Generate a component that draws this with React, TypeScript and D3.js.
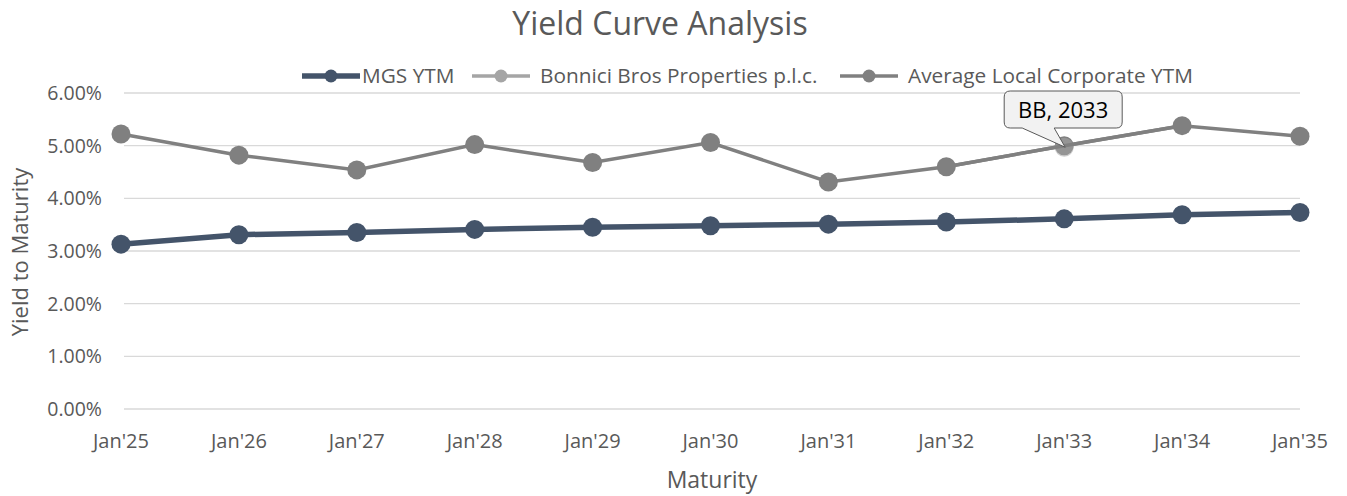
import React, { useEffect, useRef } from 'react'
import * as d3 from 'd3'

// chart data
const maturities = ["Jan'25", "Jan'26", "Jan'27", "Jan'28", "Jan'29", "Jan'30", "Jan'31", "Jan'32", "Jan'33", "Jan'34", "Jan'35"]
const mgsYtm = [3.13, 3.31, 3.35, 3.41, 3.45, 3.48, 3.51, 3.55, 3.61, 3.69, 3.73]
const avgCorporateYtm = [5.22, 4.82, 4.54, 5.02, 4.68, 5.06, 4.31, 4.60, 5.00, 5.38, 5.18]
const bonniciMaturity = ["Jan'33"]
const bonniciYtm = [4.97]
const yTicks = [0, 1, 2, 3, 4, 5, 6]
const seriesNames = ['MGS YTM', 'Bonnici Bros Properties p.l.c.', 'Average Local Corporate YTM']

const FONT = "'Open Sans', sans-serif"

export default function App() {
    const ref = useRef<SVGSVGElement>(null)

    useEffect(() => {
        const width = 1347
        const height = 496
        const svg = d3.select(ref.current)
        svg.selectAll('*').remove()

        const x = d3.scalePoint<string>().domain(maturities).range([121, 1300])
        const y = d3.scaleLinear().domain([0, 6]).range([409, 93])

        // title
        svg.append('text')
            .attr('x', 660).attr('y', 35)
            .attr('text-anchor', 'middle')
            .style('font-family', FONT).style('font-size', '32px')
            .attr('fill', '#595959')
            .text('Yield Curve Analysis')

        // gridlines
        svg.append('g').selectAll('line')
            .data(yTicks)
            .enter().append('line')
            .attr('x1', 124).attr('x2', 1300)
            .attr('y1', d => y(d)).attr('y2', d => y(d))
            .attr('stroke', '#D9D9D9').attr('stroke-width', 1.3)

        // y tick labels
        svg.append('g').selectAll('text')
            .data(yTicks)
            .enter().append('text')
            .attr('x', 102).attr('y', d => y(d) + 7)
            .attr('text-anchor', 'end')
            .style('font-family', FONT).style('font-size', '19.5px')
            .attr('fill', '#595959')
            .text(d => d.toFixed(2) + '%')

        // x tick labels
        svg.append('g').selectAll('text')
            .data(maturities)
            .enter().append('text')
            .attr('x', d => x(d)!).attr('y', 448)
            .attr('text-anchor', 'middle')
            .style('font-family', FONT).style('font-size', '20px')
            .attr('fill', '#595959')
            .text(d => d)

        // axis titles
        svg.append('text')
            .attr('x', 712).attr('y', 488)
            .attr('text-anchor', 'middle')
            .style('font-family', FONT).style('font-size', '23px')
            .attr('fill', '#595959')
            .text('Maturity')
        svg.append('text')
            .attr('transform', 'translate(28,252) rotate(-90)')
            .attr('text-anchor', 'middle')
            .style('font-family', FONT).style('font-size', '22px')
            .attr('fill', '#595959')
            .text('Yield to Maturity')

        const line = d3.line<number>()
            .x((d, i) => x(maturities[i])!)
            .y(d => y(d))

        // MGS
        svg.append('path').datum(mgsYtm)
            .attr('d', line).attr('fill', 'none')
            .attr('stroke', '#44546A').attr('stroke-width', 5.5)
        svg.append('g').selectAll('circle')
            .data(mgsYtm).enter().append('circle')
            .attr('cx', (d, i) => x(maturities[i])!).attr('cy', d => y(d))
            .attr('r', 9.5).attr('fill', '#44546A')

        // average corporate
        svg.append('path').datum(avgCorporateYtm)
            .attr('d', line).attr('fill', 'none')
            .attr('stroke', '#808080').attr('stroke-width', 3.5)
        svg.append('g').selectAll('circle')
            .data(avgCorporateYtm).enter().append('circle')
            .attr('cx', (d, i) => x(maturities[i])!).attr('cy', d => y(d))
            .attr('r', 9.5).attr('fill', '#808080')

        // Bonnici bond
        svg.append('g').selectAll('circle')
            .data(bonniciYtm).enter().append('circle')
            .attr('cx', (d, i) => x(bonniciMaturity[i])!).attr('cy', d => y(d))
            .attr('r', 9.5).attr('fill', '#A5A5A5').attr('opacity', 0.55)
        svg.append('path').datum(avgCorporateYtm.slice(7, 10))
            .attr('d', d3.line<number>().x((d, i) => x(maturities[i + 7])!).y(d => y(d)))
            .attr('fill', 'none').attr('stroke', '#808080').attr('stroke-width', 3.5)

        // callout
        const px = x(bonniciMaturity[0])!
        const py = y(bonniciYtm[0])
        const bx0 = px - 60, bx1 = px + 58, by0 = 91, by1 = 128
        const r = 6
        const callout = `M${bx0 + r},${by0} L${bx1 - r},${by0} Q${bx1},${by0} ${bx1},${by0 + r} L${bx1},${by1 - r} Q${bx1},${by1} ${bx1 - r},${by1} ` +
            `L${px - 10},${by1} L${px + 1},${py} L${px - 42},${by1} L${bx0 + r},${by1} Q${bx0},${by1} ${bx0},${by1 - r} L${bx0},${by0 + r} Q${bx0},${by0} ${bx0 + r},${by0} Z`
        svg.append('path').attr('d', callout)
            .attr('fill', '#F2F2F2').attr('stroke', '#595959').attr('stroke-width', 1)
        svg.append('text')
            .attr('x', (bx0 + bx1) / 2).attr('y', 118)
            .attr('text-anchor', 'middle')
            .style('font-family', FONT).style('font-size', '22px')
            .attr('fill', '#000000')
            .text('BB, 2033')

        // legend
        const legend = [
            { name: seriesNames[0], color: '#44546A', w: 5.5, x0: 302, tx: 362 },
            { name: seriesNames[1], color: '#A5A5A5', w: 3.5, x0: 472, tx: 540 },
            { name: seriesNames[2], color: '#808080', w: 3.5, x0: 840, tx: 908 },
        ]
        const lg = svg.append('g').selectAll('g').data(legend).enter().append('g')
            .attr('transform', d => `translate(${d.x0},76)`)
        lg.append('line').attr('x1', 0).attr('x2', 58).attr('y1', 0).attr('y2', 0)
            .attr('stroke', d => d.color).attr('stroke-width', d => d.w)
        lg.append('circle').attr('cx', 29).attr('cy', 0).attr('r', 6.5).attr('fill', d => d.color)
        lg.append('text').attr('x', d => d.tx - d.x0).attr('y', 7)
            .style('font-family', FONT).style('font-size', '20.8px')
            .attr('fill', '#595959')
            .text(d => d.name)

        svg.attr('width', width).attr('height', height)
    }, [])

    return (
        <svg ref={ref} style={{ position: 'absolute', left: 0, top: 0, background: '#fff' }} />
    )
}
